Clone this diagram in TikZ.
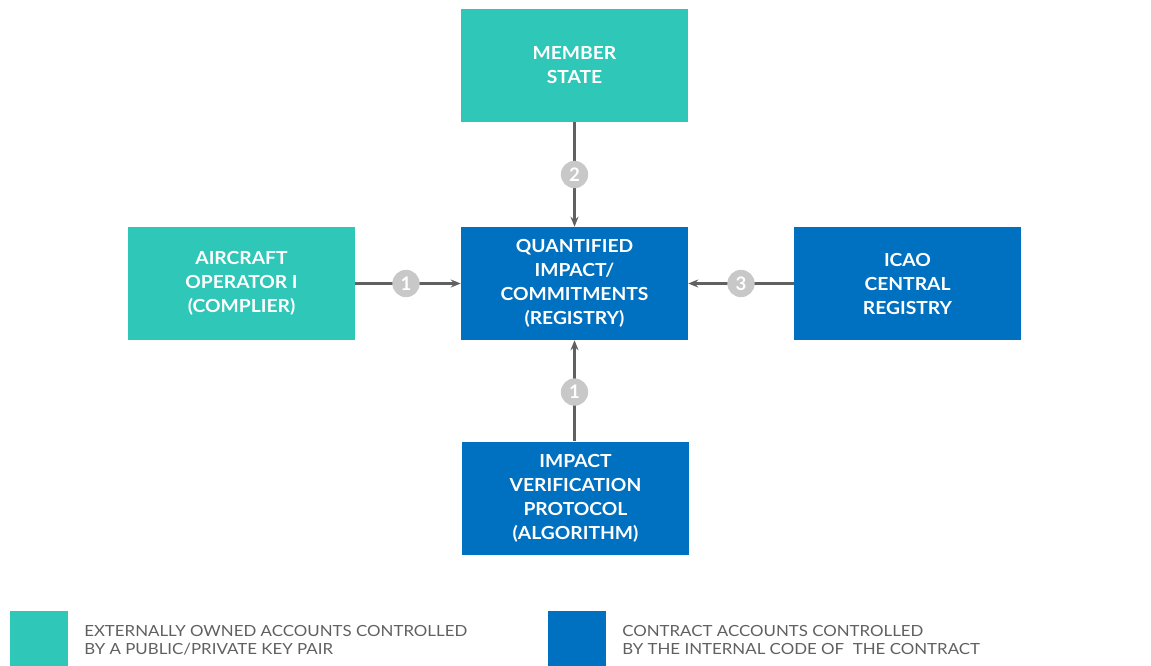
\documentclass[tikz,border=0pt]{standalone}
\usepackage{fontspec}
\setmainfont{Lato}
\newfontfamily\boxfont[FakeStretch=1.07]{Lato}
\newfontfamily\legendfont[FakeStretch=1.1]{Lato}
\usetikzlibrary{arrows.meta,positioning}
\definecolor{eoateal}{RGB}{46,199,184}
\definecolor{cablue}{RGB}{0,112,192}
\definecolor{linegray}{RGB}{96,96,96}
\definecolor{badgegray}{RGB}{200,200,200}
\tikzset{
    >={Stealth[length=7.5pt,width=6pt]},
    acct/.style={minimum width=170.25pt,minimum height=84.75pt,inner sep=0pt,
        text=white,align=center,font=\boxfont\bfseries\fontsize{13.5pt}{18pt}\selectfont},
    extacct/.style={acct,fill=eoateal},
    contract/.style={acct,fill=cablue},
    link/.style={->,draw=linegray,line width=1.9pt},
    badge/.style={circle,fill=badgegray,text=white,minimum size=20.5pt,inner sep=0pt,
        font=\bfseries\fontsize{14pt}{14pt}\selectfont},
    legendtext/.style={anchor=west,align=left,text=linegray,inner sep=0pt,
        font=\legendfont\fontsize{11.5pt}{13.5pt}\selectfont}
}
\begin{document}
\begin{tikzpicture}[x=0.75pt,y=-0.75pt]
    \useasboundingbox (0,0) rectangle (1151,666);

    % accounts
    \node[extacct] (member) at (574.5,65.5) {MEMBER\\STATE};
    \node[contract] (registry) at (574.5,283.5) {QUANTIFIED\\IMPACT/\\COMMITMENTS\\(REGISTRY)};
    \node[extacct] (operator) at (241.5,283.5) {AIRCRAFT\\OPERATOR I\\(COMPLIER)};
    \node[contract] (icao) at (907.5,283.5) {ICAO\\CENTRAL\\REGISTRY};
    \node[contract] (protocol) at (575.5,498) {IMPACT\\VERIFICATION\\PROTOCOL\\(ALGORITHM)};

    % calls between accounts
    \draw[link] (member) -- node[badge] {2} (registry);
    \draw[link] (operator) -- node[badge,xshift=-1.5pt] {1} (registry);
    \draw[link] (icao) -- node[badge] {3} (registry);
    \draw[link] (protocol.north -| registry) -- node[badge,yshift=-1pt] {1} (registry);

    % legend
    \fill[eoateal] (10,611) rectangle (68,666);
    \node[legendtext] (eoalabel) at (84,640) {EXTERNALLY OWNED ACCOUNTS CONTROLLED\\BY A PUBLIC/PRIVATE KEY PAIR};
    \fill[cablue] (548,611) rectangle (606,666);
    \node[legendtext] (calabel) at (622,640) {CONTRACT ACCOUNTS CONTROLLED\\BY THE INTERNAL CODE OF\ \ THE CONTRACT};
\end{tikzpicture}
\end{document}
